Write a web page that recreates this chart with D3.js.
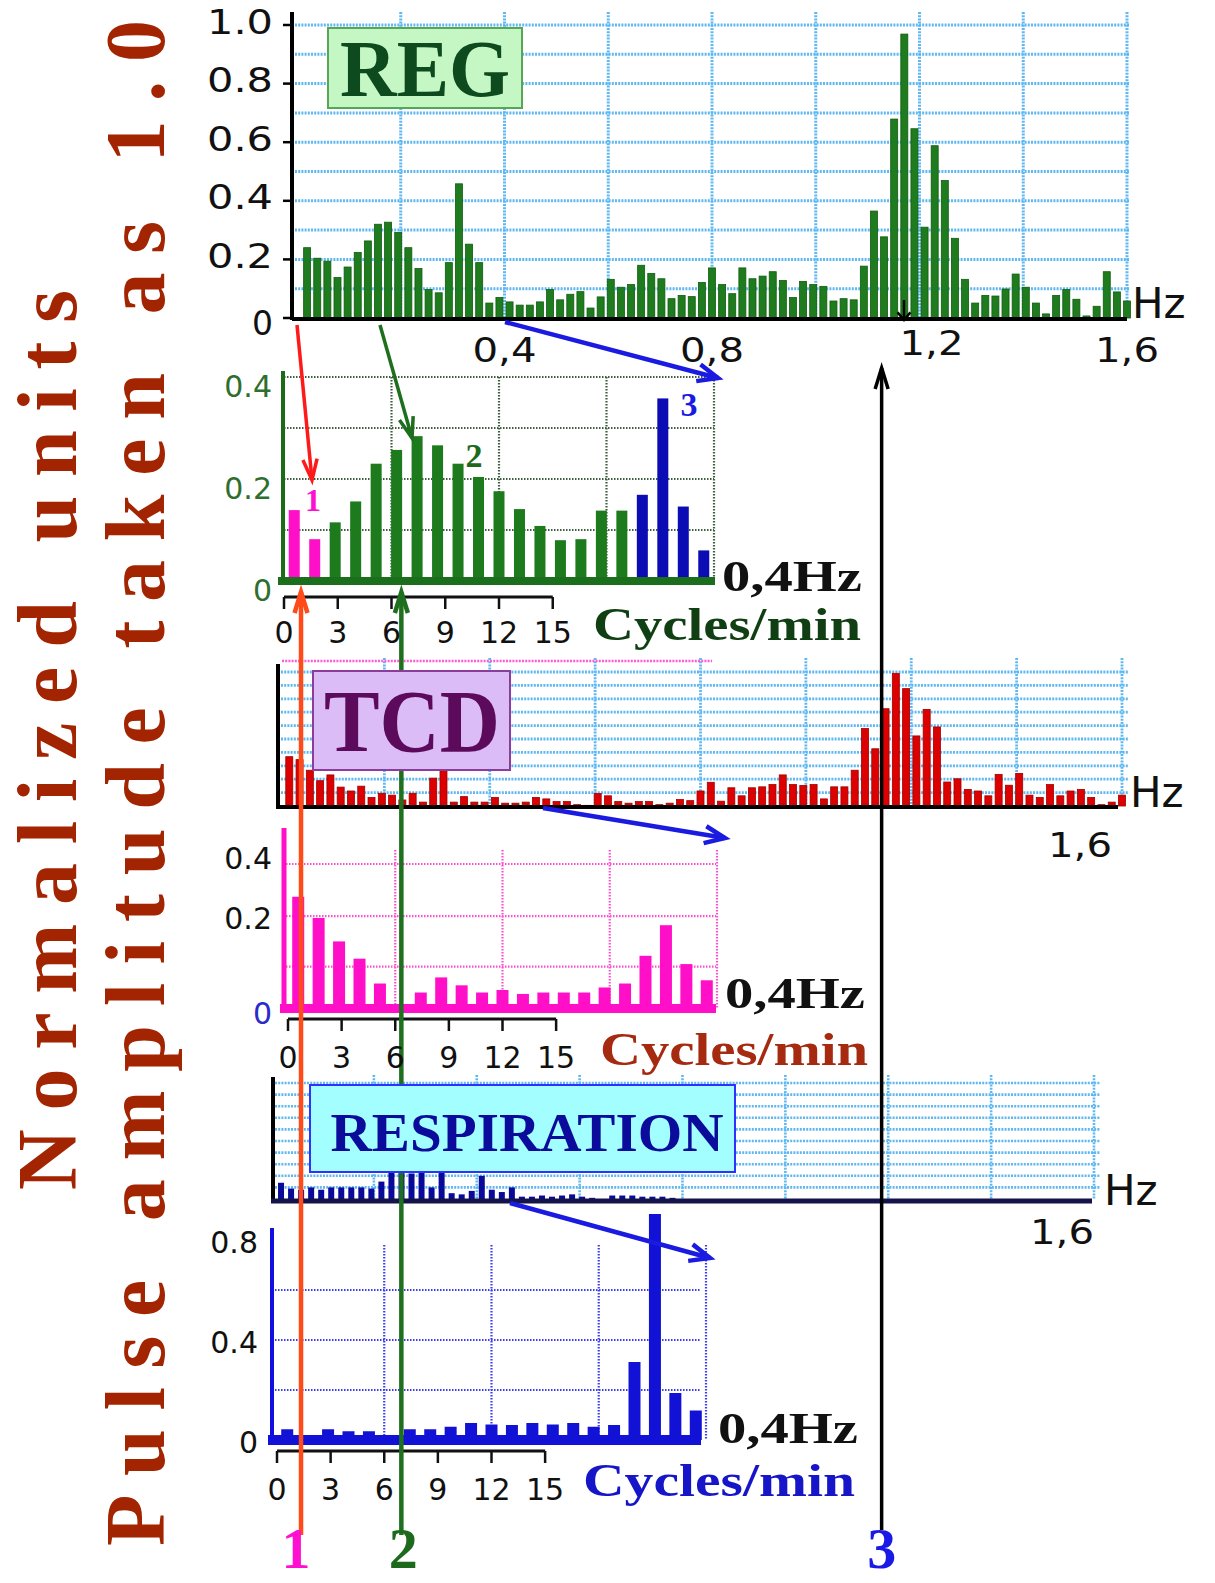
<!DOCTYPE html>
<html><head><meta charset="utf-8">
<script src="https://cdn.jsdelivr.net/npm/d3@7"></script>
<style>body{margin:0;background:#fff}svg{display:block}</style>
</head><body>
<svg id="c" width="1215" height="1583"></svg>
<script>
// ---------------- DATA ----------------
// Full spectra, 82 bins from 0 to 1.6 Hz (normalised, pulse amplitude = 1.0)
const regHz = [0.24,0.204,0.194,0.138,0.174,0.224,0.263,0.32,0.327,0.292,
  0.24,0.169,0.097,0.086,0.189,0.458,0.252,0.189,0.051,0.07,
  0.055,0.044,0.044,0.055,0.097,0.062,0.081,0.09,0.034,0.072,
  0.132,0.105,0.114,0.18,0.152,0.134,0.066,0.077,0.073,0.121,
  0.171,0.114,0.083,0.171,0.134,0.143,0.158,0.128,0.07,0.125,
  0.114,0.108,0.058,0.066,0.062,0.177,0.365,0.277,0.679,0.969,
  0.646,0.31,0.588,0.469,0.272,0.132,0.051,0.077,0.075,0.099,
  0.15,0.105,0.051,0.014,0.077,0.097,0.064,0.007,0.04,0.158,
  0.089,0.058];
const tcdHz = [0.368,0.346,0.267,0.189,0.232,0.141,0.112,0.148,0.064,0.095,
  0.081,0.045,0.095,0.029,0.208,0.27,0.029,0.07,0.029,0.029,
  0.064,0.021,0.021,0.029,0.064,0.053,0.033,0.033,0.01,0.005,
  0.093,0.076,0.033,0.021,0.033,0.033,0.01,0.021,0.048,0.04,
  0.112,0.177,0.036,0.136,0.076,0.136,0.143,0.16,0.232,0.16,
  0.153,0.16,0.053,0.143,0.143,0.267,0.578,0.427,0.726,0.99,
  0.876,0.523,0.721,0.59,0.179,0.203,0.124,0.112,0.076,0.236,
  0.155,0.243,0.081,0.064,0.16,0.076,0.112,0.124,0.064,0.01,
  0.029,0.081];
const respHz = [0.14,0.09,0.08,0.1,0.08,0.1,0.1,0.1,0.1,0.09,
  0.15,0.24,0.24,0.22,0.24,0.1,0.24,0.05,0.04,0.07,
  0.2,0.08,0.06,0.1,0.02,0.02,0.03,0.02,0.03,0.04,
  0.02,0.01,0,0.03,0.03,0.03,0.02,0.02,0.02,0.01,
  0,0,0,0,0,0,0,0,0,0,
  0,0,0,0,0,0,0,0,0,0,
  0,0,0,0,0,0,0,0,0,0,
  0,0,0,0,0,0,0,0,0,0,
  0,0];
// Zoomed 0-0.4 Hz spectra (21 bins, 0-24 cycles/min)
const regInset = [0.139,0.082,0.115,0.156,0.23,0.257,0.284,0.266,0.23,0.204,
  0.176,0.141,0.108,0.08,0.082,0.138,0.138,0.169,0.358,0.146,0.06];
const regInsetBand = ["1","1","2","2","2","2","2","2","2","2","2","2","2","2","2","2","2","3","3","3","3"];
const tcdInset = [0.309,0.25,0.185,0.137,0.068,0.01,0.043,0.085,0.063,0.043,
  0.05,0.039,0.043,0.043,0.043,0.057,0.068,0.145,0.23,0.122,0.077];
const respInset = [0.043,0.02,0.043,0.035,0.035,0.01,0.043,0.043,0.053,0.068,
  0.062,0.06,0.068,0.062,0.068,0.053,0.06,0.312,0.904,0.188,0.118];
// Ticks
const hzTicks = [0.4,0.8,1.2,1.6];
const hzTickLabels = ["0,4","0,8","1,2","1,6"];
const regYTicks = [0,0.2,0.4,0.6,0.8,1.0];
const regYTickLabels = ["0","0.2","0.4","0.6","0.8","1.0"];
const cycleTicks = [0,3,6,9,12,15];
const regInsetYTicks = [0,0.2,0.4];
const tcdInsetYTicks = [0,0.2,0.4];
const respInsetYTicks = [0,0.4,0.8];
// Marked components: 1,2 in cycles/min, 3 in Hz
const markCycles = [{label:"1", cycles:0.95}, {label:"2", cycles:6.55}];
const markHz = {label:"3", hz:1.127};

// ---------------- SETUP ----------------
const svg = d3.select("#c");
const SANS = "'DejaVu Sans', Verdana, sans-serif";
const SERIF = "'Liberation Serif', 'Times New Roman', serif";
const NB = 82, FMAX = 1.6;
const binHz = i => (i + 1) * FMAX / NB;
const binCyc = i => (i + 0.5) * 24 / 21;
const bandColor = {"1":"#ff10c8","2":"#1d7a1d","3":"#0c0cb4"};
const LB = "#5fb8f0";

function text(g, x, y, s, o = {}) {
  const t = g.append("text").attr("x", x).attr("y", y).text(s)
    .attr("font-family", o.family || SANS).attr("font-size", o.size || 30)
    .attr("fill", o.fill || "#111").attr("text-anchor", o.anchor || "start")
    .attr("dominant-baseline", o.base || "central");
  if (o.weight) t.attr("font-weight", o.weight);
  if (o.len) t.attr("textLength", o.len).attr("lengthAdjust", "spacingAndGlyphs");
  return t;
}
function arrow(g, x1, y1, x2, y2, color, w, head = 18, ang = 0.42) {
  g.append("line").attr("x1", x1).attr("y1", y1).attr("x2", x2).attr("y2", y2)
    .attr("stroke", color).attr("stroke-width", w);
  const a = Math.atan2(y2 - y1, x2 - x1);
  const p = d3.path();
  p.moveTo(x2 - head * Math.cos(a - ang), y2 - head * Math.sin(a - ang));
  p.lineTo(x2, y2);
  p.lineTo(x2 - head * Math.cos(a + ang), y2 - head * Math.sin(a + ang));
  g.append("path").attr("d", p.toString()).attr("fill", "none")
    .attr("stroke", color).attr("stroke-width", w).attr("stroke-linejoin", "miter");
}
function hgrid(g, vals, y, x1, x2, color, w, dash) {
  g.selectAll(null).data(vals).join("line")
    .attr("x1", x1).attr("x2", x2).attr("y1", d => y(d)).attr("y2", d => y(d))
    .attr("stroke", color).attr("stroke-width", w).attr("stroke-dasharray", dash);
}
function vgrid(g, vals, x, y1, y2, color, w, dash) {
  g.selectAll(null).data(vals).join("line")
    .attr("y1", y1).attr("y2", y2).attr("x1", d => x(d)).attr("x2", d => x(d))
    .attr("stroke", color).attr("stroke-width", w).attr("stroke-dasharray", dash);
}
function bars(g, data, x, y, pos, w, fill, stroke) {
  g.selectAll(null).data(data).join("rect")
    .attr("x", (d, i) => x(pos(i)) - w / 2).attr("width", w)
    .attr("y", d => y(d)).attr("height", d => Math.max(0, y(0) - y(d)))
    .attr("fill", typeof fill === "function" ? (d, i) => fill(i) : fill)
    .attr("stroke", stroke || "none").attr("stroke-width", 0.8);
}
function cycleAxis(g, x, yy) {
  g.append("line").attr("x1", x(0)).attr("x2", x(15)).attr("y1", yy).attr("y2", yy)
    .attr("stroke", "#111").attr("stroke-width", 3);
  g.selectAll(null).data(cycleTicks).join("line")
    .attr("x1", d => x(d)).attr("x2", d => x(d)).attr("y1", yy).attr("y2", yy + 12)
    .attr("stroke", "#111").attr("stroke-width", 2.5);
}
const tenths = d3.range(1, 11).map(d => d / 10);
const fifths = d3.range(1, 9).map(d => d / 5);
const cyc6 = [6, 12, 18, 24];

const gGrid = svg.append("g"), gBars = svg.append("g"), gAx = svg.append("g"),
      gLines = svg.append("g"), gBox = svg.append("g"), gTxt = svg.append("g");

// ---------------- REG full ----------------
const xR = d3.scaleLinear([0, FMAX], [297, 1127]);
const yR = d3.scaleLinear([0, 1], [318, 25]);
hgrid(gGrid, tenths, yR, 295, 1130, LB, 3, "2 1.2");
vgrid(gGrid, fifths, xR, 12, yR(0), LB, 3, "2 1.2");
bars(gBars, regHz, xR, yR, binHz, 7, "#1e7c1e", "#0f5c0f");
gAx.append("line").attr("x1", 292).attr("x2", 292).attr("y1", 12).attr("y2", yR(0) + 2)
  .attr("stroke", "#000").attr("stroke-width", 4);
gAx.append("line").attr("x1", 292).attr("x2", xR(FMAX)).attr("y1", yR(0) + 1).attr("y2", yR(0) + 1)
  .attr("stroke", "#000").attr("stroke-width", 4);
gAx.selectAll(null).data(regYTicks).join("line")
  .attr("x1", 283).attr("x2", 292).attr("y1", d => yR(d)).attr("y2", d => yR(d))
  .attr("stroke", "#000").attr("stroke-width", 2.5);
regYTicks.forEach((v, i) => text(gTxt, 273, yR(v) + (v === 0 ? 5 : -3), regYTickLabels[i],
  {anchor: "end", size: 33, len: regYTickLabels[i].length === 1 ? null : 66}));
hzTicks.forEach((v, i) => text(gTxt, xR(v) + (v === 1.2 ? 12 : 0), v === 1.2 ? 343 : 350, hzTickLabels[i],
  {anchor: "middle", size: 33, len: 64}));
text(gTxt, 1132, 303, "Hz", {size: 42});

// ---------------- REG inset ----------------
const xI = d3.scaleLinear([0, 24], [284, 714]);
const yI = d3.scaleLinear([0, 0.4], [581, 377]);
hgrid(gGrid, [0.1, 0.2, 0.3, 0.4], yI, 284, 714, "#3e5e3e", 2.2, "1.5 1.5");
vgrid(gGrid, cyc6, xI, yI(0.4), yI(0), "#3e5e3e", 2.2, "1.5 1.5");
bars(gBars, regInset, xI, yI, binCyc, 11, i => bandColor[regInsetBand[i]]);
gAx.append("rect").attr("x", 278).attr("y", yI(0) - 4).attr("width", 437).attr("height", 8).attr("fill", "#1b6e1b");
gAx.append("line").attr("x1", 283).attr("x2", 283).attr("y1", 371).attr("y2", yI(0))
  .attr("stroke", "#1b6b1b").attr("stroke-width", 4);
cycleAxis(gAx, xI, 597);
regInsetYTicks.forEach(v => text(gTxt, 272, yI(v) + 9, String(v), {anchor: "end", size: 30, fill: "#2f6e2f"}));
cycleTicks.forEach(v => text(gTxt, xI(v), 632, String(v), {anchor: "middle", size: 30}));
text(gTxt, 722, 576, "0,4Hz", {family: SERIF, weight: "bold", size: 44, len: 140});
text(gTxt, 593, 624, "Cycles/min", {family: SERIF, weight: "bold", size: 46, len: 268, fill: "#0f3f12"});
text(gTxt, 313, 500, "1", {family: SERIF, weight: "bold", size: 32, anchor: "middle", fill: "#ff10d0"});
text(gTxt, 474, 455, "2", {family: SERIF, weight: "bold", size: 34, anchor: "middle", fill: "#1d6a1d"});
text(gTxt, 689, 404, "3", {family: SERIF, weight: "bold", size: 34, anchor: "middle", fill: "#1a1ae6"});

// ---------------- TCD full ----------------
const xT = d3.scaleLinear([0, FMAX], [279, 1122]);
const yT = d3.scaleLinear([0, 1], [806, 672]);
hgrid(gGrid, tenths, yT, 281, 1128, LB, 2.8, "2 1.2");
vgrid(gGrid, fifths, xT, 658, yT(0), LB, 2.8, "2 1.2");
gGrid.append("line").attr("x1", 282).attr("x2", 712).attr("y1", 661).attr("y2", 661)
  .attr("stroke", "#ff5ad8").attr("stroke-width", 2.6).attr("stroke-dasharray", "2 1.2");
bars(gBars, tcdHz, xT, yT, binHz, 7, "#dc0000", "#a00000");
gAx.append("line").attr("x1", 278).attr("x2", 278).attr("y1", 664).attr("y2", yT(0) + 2)
  .attr("stroke", "#000").attr("stroke-width", 4);
gAx.append("line").attr("x1", 276).attr("x2", 1118).attr("y1", yT(0) + 1).attr("y2", yT(0) + 1)
  .attr("stroke", "#000").attr("stroke-width", 4);
text(gTxt, 1130, 792, "Hz", {size: 42});
text(gTxt, xT(1.6) - 42, 845, "1,6", {anchor: "middle", size: 33, len: 64});

// ---------------- TCD inset ----------------
const xTI = d3.scaleLinear([0, 24], [288, 717]);
const yTI = d3.scaleLinear([0, 0.4], [1008, 864]);
hgrid(gGrid, [0.115, 0.255, 0.4], yTI, 283, 716, "#ff4fd0", 2.2, "1.5 1.5");
vgrid(gGrid, cyc6, xTI, 850, yTI(0), "#ff4fd0", 2.2, "1.5 1.5");
bars(gBars, tcdInset, xTI, yTI, binCyc, 12, "#ff10c8");
gAx.append("rect").attr("x", 280).attr("y", yTI(0) - 4).attr("width", 436).attr("height", 9).attr("fill", "#ff10c8");
gAx.append("line").attr("x1", 284).attr("x2", 284).attr("y1", 828).attr("y2", yTI(0))
  .attr("stroke", "#ff10c8").attr("stroke-width", 5);
cycleAxis(gAx, xTI, 1019);
tcdInsetYTicks.forEach(v => text(gTxt, 272, yTI(v) + (v === 0 ? 5 : v === 0.2 ? -18 : -6), String(v),
  {anchor: "end", size: 30, fill: v === 0 ? "#2b2bcc" : "#111"}));
cycleTicks.forEach(v => text(gTxt, xTI(v), 1057, String(v), {anchor: "middle", size: 30}));
text(gTxt, 725, 993, "0,4Hz", {family: SERIF, weight: "bold", size: 44, len: 140});
text(gTxt, 600, 1049, "Cycles/min", {family: SERIF, weight: "bold", size: 46, len: 268, fill: "#a62a10"});

// ---------------- RESPIRATION full ----------------
const xP = d3.scaleLinear([0, FMAX], [271, 1094]);
const yP = d3.scaleLinear([0, 1], [1199, 1083]);
hgrid(gGrid, tenths, yP, 275, 1100, LB, 2.6, "2 1.2");
vgrid(gGrid, fifths, xP, 1075, yP(0), LB, 2.6, "2 1.2");
bars(gBars, respHz, xP, yP, binHz, 6, "#0a0a9a");
gAx.append("line").attr("x1", 273).attr("x2", 273).attr("y1", 1077).attr("y2", yP(0) + 2)
  .attr("stroke", "#000").attr("stroke-width", 4);
gAx.append("line").attr("x1", 271).attr("x2", 1092).attr("y1", yP(0) + 2).attr("y2", yP(0) + 2)
  .attr("stroke", "#14144a").attr("stroke-width", 5);
text(gTxt, 1104, 1190, "Hz", {size: 42});
text(gTxt, xP(1.6) - 32, 1232, "1,6", {anchor: "middle", size: 33, len: 64});

// ---------------- RESPIRATION inset ----------------
const xPI = d3.scaleLinear([0, 24], [277, 706]);
const yPI = d3.scaleLinear([0, 0.8], [1440, 1240]);
hgrid(gGrid, [0.2, 0.4, 0.6], yPI, 272, 701, "#3c3cf0", 2.2, "1.5 1.5");
vgrid(gGrid, cyc6, xPI, 1245, yPI(0), "#3c3cf0", 2.2, "1.5 1.5");
bars(gBars, respInset, xPI, yPI, binCyc, 12, "#1212d6");
gAx.append("rect").attr("x", 268).attr("y", yPI(0) - 5).attr("width", 433).attr("height", 10).attr("fill", "#1212d6");
gAx.append("line").attr("x1", 272).attr("x2", 272).attr("y1", 1228).attr("y2", yPI(0))
  .attr("stroke", "#1010e0").attr("stroke-width", 4);
cycleAxis(gAx, xPI, 1451);
respInsetYTicks.forEach(v => text(gTxt, 258, yPI(v) + 2, String(v), {anchor: "end", size: 30}));
cycleTicks.forEach(v => text(gTxt, xPI(v), 1489, String(v), {anchor: "middle", size: 30}));
text(gTxt, 718, 1428, "0,4Hz", {family: SERIF, weight: "bold", size: 44, len: 140});
text(gTxt, 583, 1480, "Cycles/min", {family: SERIF, weight: "bold", size: 46, len: 272, fill: "#1616c8"});

// ---------------- Marker lines & arrows ----------------
const x1 = xI(markCycles[0].cycles), x2 = xI(markCycles[1].cycles), x3 = xR(markHz.hz);
arrow(gLines, x1, 1535, x1, 592, "#ff4a1a", 4.5, 22, 0.3);
arrow(gLines, x2, 1535, x2, 592, "#1e701e", 4.5, 22, 0.3);
arrow(gLines, x3, 1530, x3, 368, "#000", 3.5, 22, 0.3);
arrow(gLines, 297, 325, 312, 480, "#ff1a1a", 3.5, 22, 0.33);
arrow(gLines, 380, 325, 412, 438, "#1d6e1d", 3.5, 22, 0.33);
arrow(gLines, 505, 322, 718, 378, "#1a1ae0", 4.5, 22, 0.4);
arrow(gLines, 543, 808, 725, 838, "#1a1ae0", 4.5, 22, 0.4);
arrow(gLines, 510, 1203, 710, 1258, "#1a1ae0", 4.5, 22, 0.4);
arrow(gLines, 904, 300, 904, 320, "#000", 2.5, 10, 0.7);

text(gTxt, x1 - 5, 1548, markCycles[0].label, {family: SERIF, weight: "bold", size: 58, anchor: "middle", fill: "#ff10d0"});
text(gTxt, x2 + 2, 1548, markCycles[1].label, {family: SERIF, weight: "bold", size: 58, anchor: "middle", fill: "#1d6a1d"});
text(gTxt, x3, 1548, markHz.label, {family: SERIF, weight: "bold", size: 58, anchor: "middle", fill: "#1a1ae6"});

// ---------------- Boxes ----------------
gBox.append("rect").attr("x", 328).attr("y", 28).attr("width", 194).attr("height", 80)
  .attr("fill", "#c5f7c5").attr("stroke", "#56a656").attr("stroke-width", 2);
text(gBox, 425, 96, "REG", {family: SERIF, weight: "bold", size: 80, anchor: "middle", base: "alphabetic", fill: "#0d4a1d", len: 170});
gBox.append("rect").attr("x", 313).attr("y", 671).attr("width", 197).attr("height", 99)
  .attr("fill", "#dcbcf7").attr("stroke", "#8c3c9c").attr("stroke-width", 2);
text(gBox, 412, 751, "TCD", {family: SERIF, weight: "bold", size: 88, anchor: "middle", base: "alphabetic", fill: "#5c0a5c", len: 176});
gBox.append("rect").attr("x", 310).attr("y", 1085).attr("width", 425).attr("height", 87)
  .attr("fill", "#a3ffff").attr("stroke", "#3030ff").attr("stroke-width", 2);
text(gBox, 527, 1151, "RESPIRATION", {family: SERIF, weight: "bold", size: 54, anchor: "middle", base: "alphabetic", fill: "#0c0c9c", len: 393});

// ---------------- Y titles ----------------
svg.append("text").attr("transform", "translate(76,1190) rotate(-90)")
  .attr("font-family", SERIF).attr("font-weight", "bold").attr("font-size", 84)
  .attr("fill", "#a32400").attr("textLength", 900).attr("lengthAdjust", "spacing")
  .text("Normalized units");
svg.append("text").attr("transform", "translate(164,1546) rotate(-90)")
  .attr("font-family", SERIF).attr("font-weight", "bold").attr("font-size", 84)
  .attr("fill", "#a32400").attr("textLength", 1526).attr("lengthAdjust", "spacing")
  .text("Pulse amplitude taken as 1.0");
</script>
</body></html>
